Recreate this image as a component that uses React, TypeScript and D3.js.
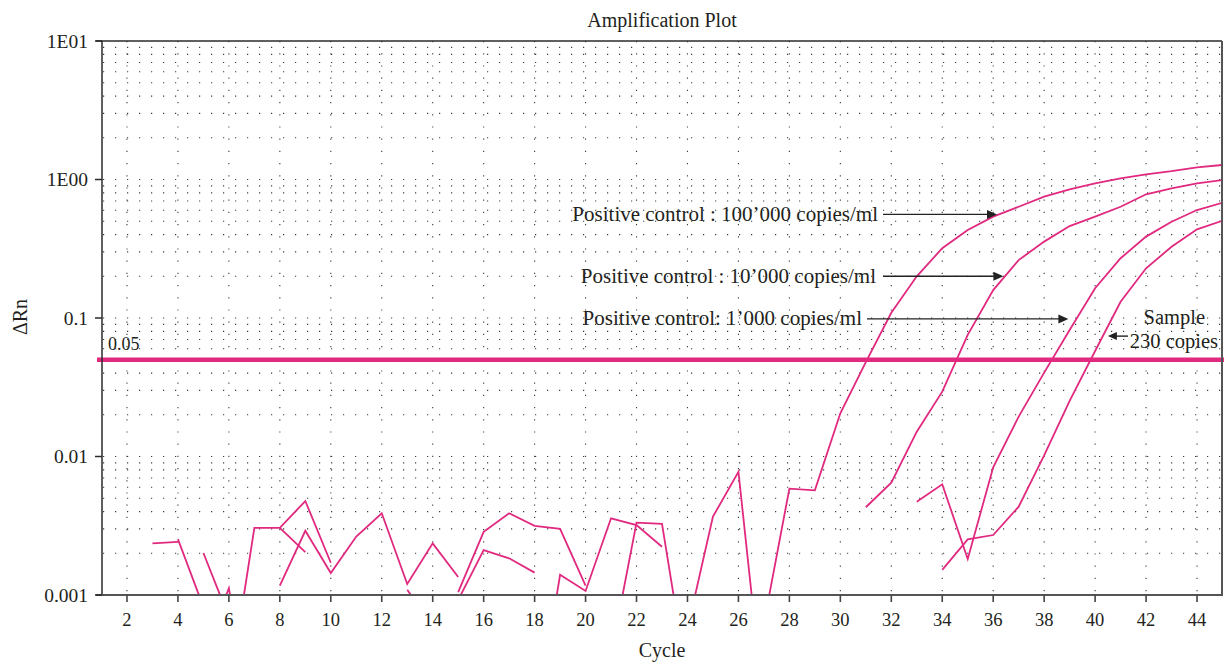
import React from "react";
import * as d3 from "d3";

// ---- data ----
const cycles: number[] = d3.range(1, 46);
const xTickValues: number[] = [2, 4, 6, 8, 10, 12, 14, 16, 18, 20, 22, 24, 26, 28, 30, 32, 34, 36, 38, 40, 42, 44];
const yTickValues: number[] = [10, 1, 0.1, 0.01, 0.001];
const yTickLabels: string[] = ["1E01", "1E00", "0.1", "0.01", "0.001"];
const threshold = 0.05;
const thresholdLabel = "0.05";

const N = null;
// values per cycle 1..45 (null = not plottable on log scale)
const control100k: (number | null)[] = [
  N, N, 0.00236, 0.00242, N, 0.0002, 0.00305, 0.00305, 0.00477, 0.00171,
  N, N, 0.00109, 0.0006, N, N, N, N, N, N,
  0.00037, 0.00333, 0.00326, 0.00024, N, N, 0.000625, 0.00586, 0.0057, 0.0205,
  0.048, 0.109, 0.2, 0.319, 0.432, 0.539, 0.636, 0.751, 0.85, 0.939,
  1.02, 1.09, 1.15, 1.225, 1.273,
];
const control10k: (number | null)[] = [
  N, N, N, 0.00253, 0.00082, N, N, 0.00305, 0.00204, N,
  N, N, N, N, 0.00105, 0.00286, 0.00389, 0.00316, 0.003, 0.00117,
  N, N, N, 0.00057, 0.00368, 0.00776, 0.00015, N, N, N,
  0.0043, 0.00647, 0.0151, 0.0294, 0.0755, 0.159, 0.262, 0.356, 0.461, 0.539,
  0.636, 0.782, 0.864, 0.939, 0.992,
];
const control1k: (number | null)[] = [
  N, N, N, N, 0.00201, 0.00069, N, 0.00117, 0.00291, 0.00144,
  0.00264, 0.00389, 0.0012, 0.00236, 0.00135, N, N, 0.000105, 0.0014, 0.00107,
  0.00358, 0.0032, 0.00223, N, N, N, N, N, N, N,
  N, N, 0.00472, 0.0063, 0.00182, 0.00836, 0.0194, 0.0403, 0.0819, 0.164,
  0.27, 0.387, 0.496, 0.602, 0.68,
];
const sample230: (number | null)[] = [
  N, N, N, N, 0.00037, 0.00112, 0.00009, N, N, N,
  N, N, N, N, 0.00092, 0.00211, 0.00184, 0.00145, N, N,
  N, N, N, N, N, N, N, N, N, N,
  N, N, N, 0.00152, 0.00252, 0.00271, 0.00434, 0.0102, 0.0252, 0.0578,
  0.131, 0.2285, 0.327, 0.437, 0.504,
];
const seriesList = [control100k, control10k, control1k, sample230];

const annotations = [
  { text: "Positive control : 100\u2019000 copies/ml", cycle: 36.15, value: 0.56, textEnd: 878, arrowStart: 883, baselineDy: 6.5 },
  { text: "Positive control : 10\u2019000 copies/ml", cycle: 36.4, value: 0.2, textEnd: 876, arrowStart: 883, baselineDy: 6.5 },
  { text: "Positive control: 1\u2019000 copies/ml", cycle: 38.95, value: 0.0985, textEnd: 862, arrowStart: 867, baselineDy: 6.5 },
];

// ---- layout ----
const W = 1226;
const H = 662;
const left = 102;
const right = 1222;
const top = 41;
const bottom = 595;
const PINK = "#E0297F";
const INK = "#231F20";
const FONT = "'Liberation Serif', 'Times New Roman', serif";

export default function App() {
  const x = d3.scaleLinear().domain([1, 45]).range([101.5, 1222.5]);
  const y = d3.scaleLog().domain([0.001, 10]).range([bottom, top]);

  const gridValues: number[] = [];
  for (let d = -3; d <= 0; d++) {
    for (let k = 1; k <= 9; k++) {
      const v = k * Math.pow(10, d);
      if (v > 0.001 && v < 10) gridValues.push(v);
    }
  }

  const line = d3
    .line<[number, number | null]>()
    .defined((d) => d[1] != null && (d[1] as number) > 0)
    .x((d) => x(d[0]))
    .y((d) => y(d[1] as number));

  const arrowHead = (xTip: number, yy: number, dir: 1 | -1, len = 10, half = 4.5) =>
    `M${xTip},${yy} L${xTip - dir * len},${yy - half} L${xTip - dir * len},${yy + half} Z`;

  return (
    <svg
      width={W}
      height={H}
      style={{ position: "absolute", left: 0, top: 0, background: "#fff" }}
      fontFamily={FONT}
    >
      <defs>
        <clipPath id="plotClip">
          <rect x={left} y={top} width={right - left} height={bottom - top} />
        </clipPath>
      </defs>

      {/* grid */}
      <g stroke="#3a3a3a" strokeWidth={1.1} fill="none">
        {gridValues.map((v, i) => (
          <line key={"h" + i} x1={left + 1} x2={right} y1={y(v)} y2={y(v)} strokeDasharray="1.2 10.8" />
        ))}
        {xTickValues.map((c) => (
          <line key={"v" + c} x1={x(c)} x2={x(c)} y1={top} y2={bottom} strokeDasharray="1.2 11" />
        ))}
      </g>

      {/* series */}
      <g clipPath="url(#plotClip)" fill="none" stroke={PINK} strokeWidth={1.8} strokeLinejoin="miter">
        {seriesList.map((s, i) => (
          <path key={i} d={line(cycles.map((c, j) => [c, s[j]] as [number, number | null])) || ""} />
        ))}
      </g>

      {/* threshold */}
      <line x1={97} x2={right + 2} y1={y(threshold)} y2={y(threshold)} stroke={PINK} strokeWidth={4.6} />
      <text x={108} y={y(threshold) - 10} fontSize={18} fill={INK}>
        {thresholdLabel}
      </text>

      {/* frame */}
      <line x1={96} x2={right} y1={top} y2={top} stroke="#2a2a2a" strokeWidth={1.5} />
      <line x1={left} x2={left} y1={top} y2={bottom} stroke="#2a2a2a" strokeWidth={1.5} />
      <line x1={right} x2={right} y1={top} y2={bottom + 1} stroke="#555" strokeWidth={2} />
      <line x1={96} x2={right + 1} y1={bottom} y2={bottom} stroke="#555" strokeWidth={2} />

      {/* y ticks */}
      {yTickValues.map((v, i) => (
        <g key={"yt" + i}>
          <line x1={95} x2={left} y1={y(v)} y2={y(v)} stroke="#2a2a2a" strokeWidth={1.5} />
          <text x={88} y={y(v) + 6.5} textAnchor="end" fontSize={19.5} fill={INK}>
            {yTickLabels[i]}
          </text>
        </g>
      ))}

      {/* x ticks */}
      {xTickValues.map((c) => (
        <g key={"xt" + c}>
          <line x1={x(c)} x2={x(c)} y1={bottom} y2={bottom + 7} stroke="#444" strokeWidth={1.6} />
          <text x={x(c)} y={625.5} textAnchor="middle" fontSize={18.5} fill={INK}>
            {c}
          </text>
        </g>
      ))}

      {/* titles */}
      <text x={662} y={26.5} textAnchor="middle" fontSize={20} fill={INK}>
        Amplification Plot
      </text>
      <text x={662} y={657} textAnchor="middle" fontSize={20} fill={INK}>
        Cycle
      </text>
      <text transform="translate(27,317) rotate(-90)" textAnchor="middle" fontSize={20} fill={INK}>
        ΔRn
      </text>

      {/* annotations */}
      {annotations.map((a, i) => {
        const yy = y(a.value);
        const tip = x(a.cycle);
        return (
          <g key={"an" + i}>
            <text x={a.textEnd} y={yy + a.baselineDy} textAnchor="end" fontSize={21} fill={INK}>
              {a.text}
            </text>
            <line x1={a.arrowStart} x2={tip - 8} y1={yy} y2={yy} stroke="#222" strokeWidth={1.4} />
            <path d={arrowHead(tip, yy, 1)} fill="#222" />
          </g>
        );
      })}
      {(() => {
        const yy = y(0.074);
        const tip = x(40.5);
        return (
          <g>
            <text x={1205} y={323.5} textAnchor="end" fontSize={20.5} fill={INK}>
              Sample
            </text>
            <text x={1218} y={348} textAnchor="end" fontSize={20.5} fill={INK}>
              230 copies
            </text>
            <line x1={tip + 6} x2={1128} y1={yy} y2={yy} stroke="#222" strokeWidth={1.4} />
            <path d={arrowHead(tip, yy, -1, 9, 4)} fill="#222" />
          </g>
        );
      })()}
    </svg>
  );
}
